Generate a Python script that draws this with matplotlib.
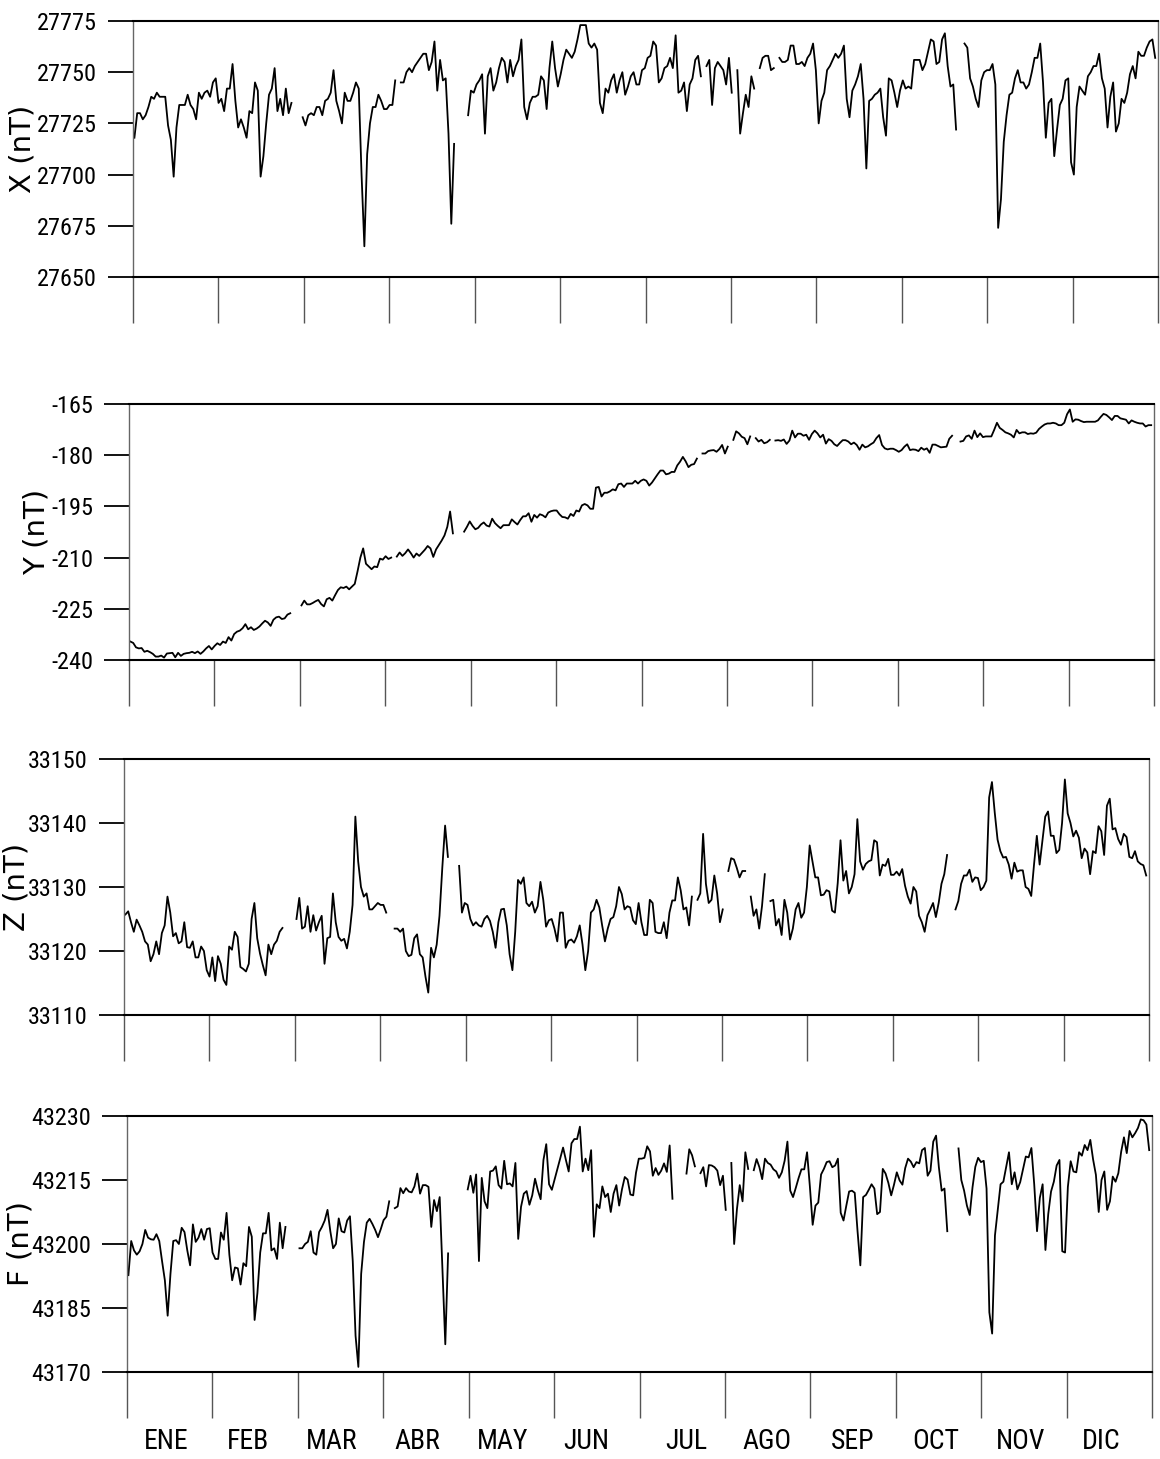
import numpy as np
import matplotlib
matplotlib.use('Agg')
import matplotlib.pyplot as plt
from matplotlib import font_manager

# the original uses a narrow sans; take one if it is installed
installed = {f.name for f in font_manager.fontManager.ttflist}
narrow = None
for name in ['Liberation Sans Narrow', 'Arial Narrow', 'Roboto Condensed', 'Open Sans Condensed']:
    if name in installed:
        narrow = name
        break
if narrow:
    tick_font, tick_size, month_size = narrow, 17.5, 20
else:
    tick_font, tick_size, month_size = 'Liberation Sans', 15, 16

plt.rcParams['font.family'] = [tick_font, 'Liberation Sans', 'DejaVu Sans']
plt.rcParams['axes.unicode_minus'] = False

N_DAYS = 365
months = ['ENE', 'FEB', 'MAR', 'ABR', 'MAY', 'JUN', 'JUL', 'AGO', 'SEP', 'OCT', 'NOV', 'DIC']
# where the month names sit (day of year)
month_label_days = [13.5, 42.7, 72.6, 103.2, 133.5, 163.4, 199, 227.7, 258.4, 287.9, 318.1, 347]

# daily means, key = first day of each unbroken stretch
x_segments = {
    0: [27718, 27730, 27730, 27727, 27729, 27733, 27738, 27737, 27740, 27738,
        27738, 27738, 27724, 27717, 27699, 27723, 27734, 27734, 27734, 27739,
        27734, 27732, 27727, 27740, 27737, 27740, 27741, 27738, 27745, 27747,
        27735, 27737, 27731, 27742, 27742, 27754, 27736, 27723, 27727, 27723,
        27718, 27731, 27730, 27745, 27741, 27699, 27709, 27725, 27739, 27742,
        27752, 27731, 27737, 27729, 27742, 27730, 27735],
    60: [27728, 27724, 27729, 27730, 27729, 27733, 27733, 27729, 27736, 27737,
         27740, 27751, 27736, 27731, 27725, 27740, 27736, 27736, 27740, 27745,
         27742, 27700, 27665, 27710, 27725, 27733, 27733, 27739, 27736, 27732,
         27732, 27734, 27734, 27746],
    95: [27745, 27745, 27750, 27752, 27750, 27753, 27755, 27757, 27759, 27759,
         27751, 27755, 27765, 27741, 27756, 27746, 27747, 27720, 27676, 27715],
    119: [27729, 27741, 27740, 27744, 27746, 27749, 27720, 27748, 27752, 27741,
          27745, 27752, 27757, 27755, 27745, 27756, 27748, 27753, 27756, 27766,
          27733, 27727, 27735, 27738, 27738, 27739, 27748, 27746, 27732, 27752,
          27765, 27752, 27743, 27749, 27756, 27761, 27759, 27757, 27760, 27766,
          27773, 27773, 27773, 27764, 27762, 27764, 27761, 27735, 27730, 27742,
          27740, 27746, 27749, 27740, 27746, 27750, 27739, 27743, 27748, 27750,
          27744, 27744, 27751, 27752, 27757, 27758, 27765, 27763, 27745, 27747,
          27752, 27753, 27757, 27752, 27768, 27740, 27741, 27745, 27731, 27744,
          27747, 27756, 27758, 27748],
    204: [27753, 27756, 27734, 27752, 27755, 27753, 27751, 27744, 27757, 27740],
    215: [27751, 27720, 27730, 27739, 27733, 27748, 27742],
    223: [27752, 27757, 27758, 27758, 27751, 27752],
    230: [27757, 27755, 27755, 27756, 27763, 27763, 27754, 27754, 27755, 27753,
          27757, 27759, 27764, 27751, 27725, 27736, 27740, 27751, 27753, 27756,
          27759, 27757, 27759, 27763, 27737, 27728, 27741, 27744, 27748, 27754,
          27737, 27703, 27736, 27737, 27739, 27740, 27742, 27728, 27719, 27747,
          27746, 27740, 27733, 27741, 27746, 27742, 27743, 27742, 27756, 27756,
          27756, 27751, 27754, 27760, 27766, 27765, 27754, 27755, 27766, 27769,
          27753, 27743, 27744, 27722],
    296: [27764, 27762, 27747, 27743, 27737, 27733, 27746, 27750, 27751, 27751,
          27754, 27744, 27674, 27688, 27716, 27729, 27739, 27740, 27747, 27751,
          27745, 27745, 27742, 27744, 27750, 27757, 27757, 27764, 27745, 27718,
          27735, 27737, 27709, 27722, 27734, 27737, 27746, 27747, 27706, 27700,
          27733, 27743, 27741, 27739, 27748, 27750, 27753, 27753, 27759, 27747,
          27742, 27723, 27738, 27745, 27721, 27725, 27737, 27735, 27740, 27749,
          27753, 27747, 27760, 27758, 27758, 27762, 27765, 27766, 27757],
}

y_segments = {
    0: [-234.6, -235, -236.3, -236.6, -236.5, -237.6, -237.3, -237.7, -238.2, -239,
        -239, -238.7, -239.3, -238.1, -238, -237.9, -239.2, -237.9, -238.8, -238.2,
        -238, -237.9, -237.6, -238, -237.5, -238.2, -237.5, -236.6, -235.9, -236.9,
        -235.9, -235.1, -235.6, -234.6, -235, -233.3, -234.3, -232.4, -231.7, -231.4,
        -230.7, -229.5, -231, -230.4, -231.2, -230.8, -230.2, -229.3, -228.5, -229,
        -230, -228.2, -227.5, -227.3, -228, -227.8, -226.7, -226.3],
    61: [-224, -222.6, -223.7, -223.7, -223.3, -222.8, -222.4, -223.6, -224.3, -222.2,
         -221.8, -222.6, -221, -219.5, -218.7, -218.9, -218.5, -219.3, -218.5, -217.7,
         -214, -210, -207.3, -211.8, -212.6, -213.4, -212.6, -212.8, -210.3, -210.6,
         -209.6, -210.4, -210],
    95: [-209.7, -208.5, -209.5, -208.7, -207.6, -208.7, -210, -208.8, -209.5, -208.6,
         -207.7, -206.6, -207.3, -209.8, -207.6, -206.3, -205, -203.5, -201, -196.5,
         -202.9],
    119: [-202.4, -201, -199.4, -200.7, -201.7, -201.3, -200.3, -199.7, -200.6, -200.9,
          -198.6, -199.9, -200.7, -201.4, -200.5, -200.5, -200.5, -198.8, -199.6, -200.3,
          -199, -197.9, -197.9, -197, -199.5, -197.5, -198.3, -197.3, -197.6, -198.2,
          -196.8, -196.4, -196.2, -196.2, -197.3, -198.1, -198.2, -198.6, -197.2, -197.8,
          -196.2, -196.5, -194.7, -194.3, -194.7, -195.7, -195.7, -189.5, -189.3, -192.1,
          -191, -191, -190.6, -190, -190.3, -188.5, -188.3, -189.3, -188.3, -188.3,
          -188.3, -187.5, -188.3, -187.5, -187.1, -187.5, -188.9, -188, -186.8, -185.6,
          -184.5, -184.5, -185.6, -185.4, -184.9, -184.9, -183, -181.9, -180.5, -181.8,
          -183.5, -182.8, -182.6, -181],
    204: [-179.5, -179.5, -178.8, -178.6, -178.5, -179, -178.2, -177, -179.5, -177.5],
    215: [-175.5, -173, -173.6, -174.6, -175, -176.8, -174.5],
    223: [-175, -176, -175.5, -176.5, -176.2, -175.5],
    230: [-175.7, -175.6, -175.8, -175.4, -176.7, -175.7, -172.8, -174.8, -173.7, -173.7,
          -174.3, -174, -175.5, -173.8, -172.8, -173.6, -174.8, -174, -176.6, -175.3,
          -175.8, -176.8, -177.3, -176.4, -175.6, -175.6, -176, -176.8, -176.3, -177,
          -178.4, -176.9, -177.7, -177.4, -176.8, -176.3, -175, -174.1, -177, -178,
          -178.3, -178.1, -178.1, -178.5, -179, -178.5, -177.5, -176.8, -178.5, -178.3,
          -178.4, -178.8, -177.8, -178.4, -178, -179.3, -176.9, -176.9, -177.3, -177.7,
          -177.6, -177.5, -175.2, -174.3],
    296: [-176, -175.8, -174.5, -174.2, -175.2, -172.8, -174.7, -173.6, -174.7, -174.5,
          -174.5, -174.5, -172.6, -170.5, -172, -172.6, -173.3, -173.6, -174, -174.8,
          -172.6, -173.6, -173.3, -173.3, -173.8, -173.6, -173.7, -173.4, -172.3, -171.6,
          -171, -170.7, -170.7, -170.5, -170.7, -171.2, -171.2, -170.5, -168, -166.6,
          -170.2, -169.5, -169.6, -170, -170.3, -170.2, -170.2, -170.2, -170.2, -169.8,
          -168.8, -167.9, -168.2, -168.9, -169.7, -168.5, -168.5, -169.2, -169.4, -169.6,
          -170.7, -169.8, -170.2, -170.5, -170.7, -170.7, -171.6, -171.2, -171.2],
}

z_segments = {
    0: [33125.7, 33126.2, 33124.5, 33123, 33124.9, 33124, 33123, 33121.5, 33121, 33118.4,
        33119.5, 33121.5, 33119.5, 33122.8, 33124, 33128.5, 33126, 33122.3, 33122.8, 33121.2,
        33121.5, 33124.5, 33120.6, 33120.5, 33121.5, 33119, 33119, 33120.7, 33120, 33117,
        33116, 33119, 33115.3, 33119.2, 33118, 33115.5, 33114.7, 33120.7, 33120.2, 33123,
        33122.2, 33117.5, 33117.2, 33116.8, 33118, 33125, 33127.5, 33122, 33119.6, 33117.8,
        33116.2, 33121, 33119.5, 33121, 33121.6, 33123, 33123.6],
    61: [33125, 33128.3, 33123.5, 33123.8, 33127, 33123, 33125.6, 33123.2, 33124.5, 33125.5,
         33118, 33122, 33122.2, 33129, 33124.5, 33122.2, 33121.6, 33121.9, 33120.4, 33123,
         33127.2, 33141, 33134, 33130, 33128.5, 33129, 33126.5, 33126.5, 33127, 33127.5,
         33127.2, 33127.2, 33126],
    96: [33123.5, 33123.5, 33123, 33123.5, 33120, 33119.2, 33119.4, 33122, 33122.6, 33119.5,
         33119, 33116, 33113.5, 33120.5, 33119, 33121, 33125.5, 33133, 33139.6, 33134.7],
    119: [33133.3, 33126, 33127.5, 33127.2, 33125, 33124, 33124.5, 33124, 33123.8, 33125,
          33125.5, 33124.7, 33123, 33120.5, 33124.5, 33126.5, 33126.6, 33124, 33119.5, 33117,
          33123, 33131.1, 33130.5, 33131.5, 33127.5, 33127, 33127.7, 33126, 33127, 33130.8,
          33128, 33123.8, 33124.8, 33125, 33123.5, 33121.5, 33126, 33126, 33120.5, 33121.6,
          33121.8, 33121.3, 33122.3, 33124, 33121, 33117, 33120, 33126, 33126.5, 33128,
          33126.8, 33124, 33121.5, 33123.5, 33125, 33125.3, 33127, 33130, 33128.9, 33126.5,
          33127, 33126.8, 33124.8, 33124.2, 33127.5, 33124.5, 33122.5, 33122.5, 33128, 33127.5,
          33123, 33122.8, 33122.8, 33124.5, 33122, 33126, 33127.9, 33127.9, 33131.5, 33129.5,
          33126.5, 33126.8, 33124, 33128.5],
    204: [33128, 33129, 33138.3, 33130.5, 33127.5, 33128, 33131.8, 33129, 33124.5, 33126.5],
    215: [33132.5, 33134.5, 33134.3, 33133, 33131.5, 33132.5, 33132.5],
    223: [33128.5, 33125.5, 33126.5, 33123.5, 33127, 33132],
    230: [33127.8, 33128, 33124, 33125, 33122.5, 33128, 33126, 33121.8, 33123.5, 33126.5,
          33127.5, 33125.2, 33126, 33130, 33136.5, 33134, 33131.5, 33131.5, 33128.7, 33128.8,
          33129.5, 33129.3, 33126.3, 33126, 33130.6, 33137.3, 33131, 33132.5, 33129, 33130,
          33132, 33140.6, 33134, 33132.7, 33133.6, 33134, 33134.2, 33137.3, 33137, 33131.8,
          33133.5, 33133.3, 33134.4, 33131.9, 33131.9, 33132.4, 33131.8, 33132.8, 33130.2, 33128.5,
          33127.4, 33130, 33129.3, 33125.5, 33124.5, 33123, 33125.6, 33126.5, 33127.5, 33125.3,
          33127.5, 33130.5, 33132, 33135],
    296: [33126.5, 33127.8, 33130.5, 33131.8, 33131.8, 33132.7, 33130.8, 33131.5, 33131.4, 33129.5,
          33130, 33131, 33144, 33146.4, 33141.6, 33137.4, 33135.6, 33134.6, 33134.7, 33133.5,
          33131.3, 33133.8, 33132.4, 33132.6, 33132.6, 33130, 33129.7, 33128.6, 33133.5, 33138,
          33133.5, 33137.3, 33141, 33141.8, 33138, 33138, 33135.3, 33135.8, 33140, 33146.8,
          33141.5, 33140, 33137.9, 33138.8, 33137.7, 33134.5, 33136, 33135.4, 33132, 33135.6,
          33135.3, 33139.5, 33138.7, 33135, 33142.7, 33143.8, 33139, 33139.2, 33137.5, 33136.6,
          33138.3, 33137.8, 33134.7, 33134.5, 33135.6, 33134, 33133.6, 33133.4, 33131.8],
}

f_segments = {
    0: [43192.7, 43200.7, 43198.5, 43197.5, 43198.3, 43200, 43203.3, 43201.5, 43201.1, 43201,
        43202.3, 43200.7, 43196, 43191.5, 43183.2, 43193, 43200.7, 43200.9, 43200, 43203.8,
        43202.8, 43198.5, 43195, 43204.6, 43200.5, 43201.5, 43203.5, 43201, 43203.5, 43203.7,
        43198, 43196.5, 43196.5, 43202.7, 43201, 43207.3, 43197.5, 43191.5, 43194.5, 43194.3,
        43190.5, 43195.5, 43194.8, 43204, 43201.7, 43182.2, 43188.5, 43198, 43202.5, 43202.5,
        43207.3, 43198.5, 43199, 43196.5, 43205, 43199, 43204],
    61: [43199, 43199, 43200, 43200.5, 43203, 43198, 43197.5, 43202.8, 43204, 43205.5,
         43208, 43203, 43199, 43200, 43206, 43203, 43202.7, 43205.5, 43206.5, 43196,
         43178.5, 43171.2, 43193, 43200.5, 43205, 43205.9, 43204.7, 43203.3, 43201.6, 43203.5,
         43205.6, 43206.4, 43210],
    95: [43208.4, 43208.8, 43213.1, 43211.9, 43213.1, 43212.3, 43212.1, 43213.5, 43216.5, 43211.8,
         43213.8, 43213.8, 43213.4, 43204, 43210.3, 43207.7, 43211, 43193.5, 43176.5, 43197.8],
    121: [43212.8, 43216, 43212, 43216.3, 43196, 43215.5, 43210, 43208.4, 43217, 43217.2,
          43218.2, 43213.8, 43213, 43219.5, 43214, 43214.2, 43213.5, 43219, 43201.2, 43208.7,
          43211.8, 43212.4, 43209.2, 43211.4, 43215.3, 43212.6, 43210.5, 43219.7, 43223.4, 43214,
          43212.7, 43215.2, 43217.6, 43220.2, 43222.6, 43219.7, 43217, 43223.6, 43224.6, 43224.6,
          43227.5, 43217, 43220, 43217.3, 43222, 43201.7, 43209.3, 43208.4, 43213.5, 43211,
          43211.8, 43207.5, 43211.8, 43213.8, 43209, 43212.8, 43215.7, 43215.1, 43211.6, 43211.4,
          43216.7, 43220, 43220, 43220.2, 43222.9, 43221.7, 43216, 43217.8, 43216.2, 43217.2,
          43218.9, 43216.9, 43223.1, 43210.6],
    199: [43216.5, 43222.2, 43220.8, 43218.2],
    204: [43216.6, 43218, 43213.5, 43218.5, 43218.4, 43218, 43217.2, 43213.8, 43216, 43208],
    215: [43219, 43200, 43208.2, 43213.8, 43210, 43221.5, 43217.6],
    223: [43217.3, 43219.9, 43218, 43215.2, 43220, 43219, 43218.6, 43217.5, 43217, 43215.5,
          43216.8, 43219.5, 43224, 43212.5, 43211, 43213.2, 43215.5, 43217.5, 43217.5, 43221.5,
          43213.5, 43204.5, 43209, 43209.7, 43216.3, 43217.6, 43219.2, 43219.4, 43218, 43218.4,
          43220, 43207.3, 43205.5, 43209, 43212.3, 43212.5, 43212, 43203, 43195, 43211,
          43211.5, 43212.7, 43214, 43213, 43207, 43207.5, 43217.6, 43216.5, 43214.3, 43211.4,
          43213.9, 43216.8, 43214.9, 43213.9, 43217.8, 43220, 43219.3, 43218, 43219.2, 43218.9,
          43222, 43222.5, 43216, 43217.2, 43224, 43225.4, 43218, 43212.5, 43213, 43203],
    296: [43222.4, 43215, 43212.5, 43209, 43206.8, 43213.3, 43218.1, 43220.2, 43219.2, 43219.5,
          43213, 43184, 43179, 43202, 43208, 43214, 43214.6, 43218, 43221.5, 43214,
          43216.8, 43212.8, 43214.5, 43217.5, 43220.5, 43220.3, 43222.5, 43214, 43203, 43210.8,
          43214, 43198.6, 43207, 43212.3, 43214.6, 43218.4, 43219.7, 43198.3, 43198, 43213.4,
          43219.4, 43217, 43216.8, 43221.5, 43220.7, 43223.2, 43222, 43224.4, 43219.8, 43216.2,
          43207.5, 43215, 43217, 43208, 43210, 43215.8, 43214.6, 43216.6, 43221.6, 43225,
          43221.3, 43226.5, 43225, 43226, 43227.2, 43229.2, 43229, 43228, 43222],
}


def build(segments):
    arr = np.full(N_DAYS, np.nan)
    for start, vals in segments.items():
        arr[start:start + len(vals)] = vals
    return arr


W, H = 1160, 1459
fig = plt.figure(figsize=(W / 100, H / 100), dpi=100)

# (segments, label, ymin, ymax, step, left px, top px, label centre x px)
panels = [
    (x_segments, 'X (nT)', 27650, 27775, 25, 133, 21, 23),
    (y_segments, 'Y (nT)', -240, -165, 15, 129, 404, 37),
    (z_segments, 'Z (nT)', 33110, 33150, 10, 124, 759, 17),
    (f_segments, 'F (nT)', 43170, 43230, 15, 127, 1116, 20),
]

days = np.arange(N_DAYS)
xlim = (-0.5, 365.0)
month_edges = np.linspace(xlim[0], xlim[1], 13)

for i, (segs, label, lo, hi, step, left, top, lab_px) in enumerate(panels):
    ax = fig.add_axes([left / W, 1 - (top + 256) / H, 1025 / W, 256 / H])
    ax.plot(days, build(segs), color='black', lw=1.3)
    ax.set_xlim(*xlim)
    ax.set_ylim(lo, hi)
    ax.set_yticks(np.arange(lo, hi + step / 2, step))

    ax.spines['top'].set_linewidth(1.5)
    ax.spines['bottom'].set_linewidth(1.5)
    for s in ['left', 'right']:
        ax.spines[s].set_color('#666666')
        ax.spines[s].set_linewidth(1.0)

    # month dividers hanging below each panel
    ax.set_xticks(month_edges)
    ax.tick_params(axis='x', which='major', direction='out', length=33,
                   width=1.0, color='#555555', labelbottom=False)
    ax.tick_params(axis='y', direction='out', length=18, width=1.3,
                   pad=8, labelsize=tick_size)

    ax.set_ylabel(label, fontsize=21, family='DejaVu Sans', va='center')
    ax.yaxis.set_label_coords((lab_px - left) / 1025, 0.5)

    if i == len(panels) - 1:
        ax.set_xticks(month_label_days, minor=True)
        ax.set_xticklabels(months, minor=True)
        ax.tick_params(axis='x', which='minor', length=0, pad=40,
                       labelsize=month_size)

fig.savefig('out.png', dpi=100)
